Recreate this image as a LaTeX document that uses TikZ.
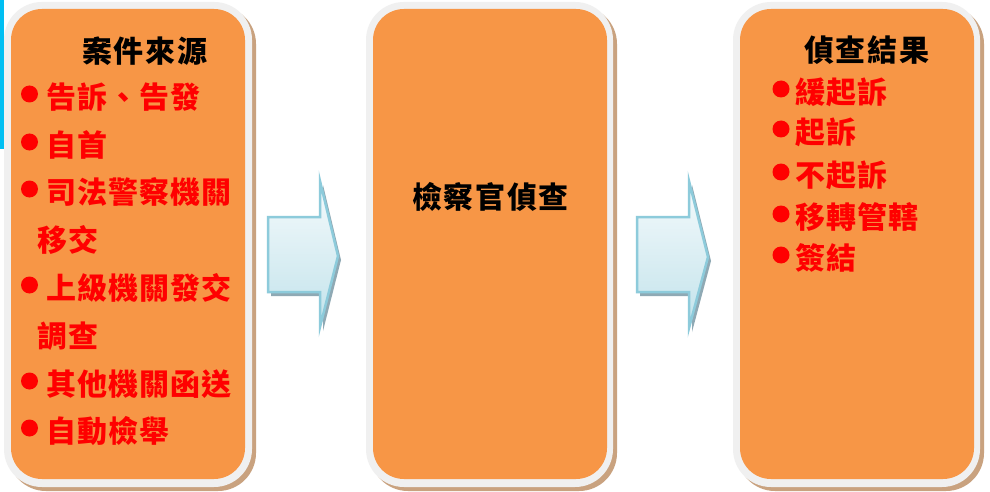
\documentclass[tikz,border=0pt]{standalone}
\usepackage{fontspec}
\newfontfamily\cjk{Noto Sans CJK TC}
\newfontfamily\cjkwide{Noto Sans CJK TC}[LetterSpace=5.5]
\newfontfamily\cjkitem{Noto Sans CJK TC}[LetterSpace=3.5]
\definecolor{boxorange}{HTML}{F79646}
\definecolor{bordergray}{HTML}{F0F0F0}
\definecolor{shadowtan}{HTML}{C9A27F}
\definecolor{itemred}{HTML}{FF0000}
\definecolor{arrowline}{HTML}{8DCBDB}
\definecolor{arrowtop}{HTML}{F5FAFC}
\definecolor{arrowbot}{HTML}{C2E3EB}
\definecolor{arrowshade}{HTML}{8FA9B4}
\definecolor{cyanbar}{HTML}{00BFF3}
\begin{document}
\begin{tikzpicture}[x=1pt,y=-1pt,
  shadowbox/.style={fill=shadowtan, rounded corners=38pt},
  outerbox/.style={fill=bordergray, rounded corners=38pt},
  innerbox/.style={fill=boxorange, rounded corners=31pt, inner sep=0pt},
  flowarrow/.style={draw=arrowline, line width=2.5pt, top color=arrowtop, bottom color=arrowbot, line join=miter},
  arrowshadow/.style={fill=arrowshade},
  titletext/.style={font=\cjkwide\bfseries\fontsize{30}{30}\selectfont, text=black, inner sep=0pt},
  itemtext/.style={font=\cjkitem\bfseries\fontsize{30}{30}\selectfont, text=itemred, anchor=west, inner sep=0pt},
  dotmark/.style={circle, fill=itemred, minimum size=17pt, inner sep=0pt},
]
\useasboundingbox (0,0) rectangle (990,492);
\fill[white] (0,0) rectangle (990,492);
% boxes: shadow, border, orange
\foreach \xa/\xb in {4/252, 366/613, 733/980}{
  \path[shadowbox] (\xa+4,6) rectangle (\xb+4,491);
  \path[outerbox] (\xa,2) rectangle (\xb,487);
}
\node[innerbox, minimum width=234pt, minimum height=470pt] (src) at (128,244) {};
\node[innerbox, minimum width=234pt, minimum height=470pt] (inv) at (490,244) {};
\node[innerbox, minimum width=234pt, minimum height=470pt] (res) at (857,244) {};
\fill[cyanbar] (0,0) rectangle (4,149);
% arrows
\path[arrowshadow] (271,221) -- (323,221) -- (323,185) -- (341,260) -- (323,331) -- (323,296) -- (271,296) -- cycle;
\path[flowarrow] (268,217) -- (320,217) -- (320,181) -- (338,256) -- (320,327) -- (320,292) -- (268,292) -- cycle;
\path[arrowshadow] (640,221) -- (692,221) -- (692,185) -- (711,261) -- (692,332) -- (692,296) -- (640,296) -- cycle;
\path[flowarrow] (637,217) -- (689,217) -- (689,181) -- (708,257) -- (689,328) -- (689,292) -- (637,292) -- cycle;
% titles
\node[titletext, anchor=west] (t1) at (82,51) {案件來源};
\node[titletext, anchor=west] (t2) at (412,197) {檢察官偵查};
\node[titletext, anchor=west] (t3) at (804,50) {偵查結果};
% left items
\foreach \yy/\txt in {97/告訴、告發, 145/自首, 192/司法警察機關, 288/上級機關發交, 384/其他機關函送, 431/自動檢舉}{
  \node[dotmark] at (29.5,\yy-3) {};
  \node[itemtext] at (46,\yy) {\txt};
}
\node[itemtext] (w1) at (37,240) {移交};
\node[itemtext] (w2) at (37,336) {調查};
% right items
\foreach \yy/\txt in {92/緩起訴, 132/起訴, 175/不起訴, 217/移轉管轄, 258/簽結}{
  \node[dotmark] at (781,\yy-3) {};
  \node[itemtext] at (795,\yy) {\txt};
}
\end{tikzpicture}
\end{document}
